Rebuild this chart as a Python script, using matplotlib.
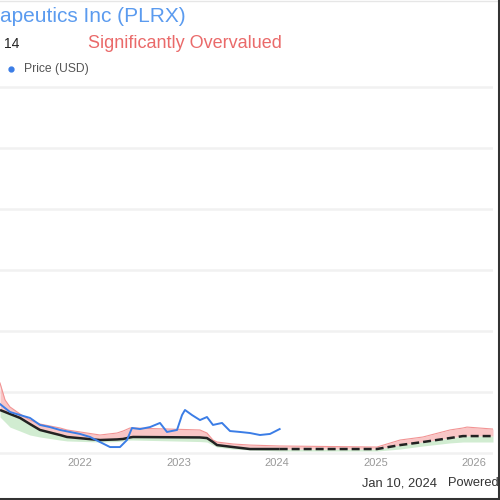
import matplotlib
matplotlib.use("Agg")
import matplotlib.pyplot as plt
from matplotlib.lines import Line2D
import numpy as np

plt.rcParams['font.family'] = ['Liberation Sans', 'DejaVu Sans']

# ---- data (decimal years, USD) ----
price_dates = [2021.188, 2021.289, 2021.391, 2021.492, 2021.594, 2021.695, 2021.797,
               2021.898, 2022.000, 2022.102, 2022.203, 2022.305, 2022.406, 2022.477,
               2022.528, 2022.609, 2022.711, 2022.812, 2022.883, 2022.985, 2023.036,
               2023.066, 2023.137, 2023.218, 2023.289, 2023.350, 2023.442, 2023.523,
               2023.624, 2023.726, 2023.827, 2023.929, 2024.027]
price_values = [32.1, 26.9, 24.9, 23.0, 18.4, 17.0, 15.1, 13.8, 12.5, 10.5, 7.2, 3.9,
                3.9, 8.5, 16.4, 15.7, 17.0, 19.7, 13.8, 15.1, 24.9, 28.2, 24.9, 21.6,
                23.6, 18.4, 19.7, 14.4, 13.8, 13.1, 11.8, 12.5, 15.7]

band_dates = [2021.188, 2021.239, 2021.289, 2021.391, 2021.492, 2021.594, 2021.797,
              2021.868, 2022.203, 2022.376, 2022.437, 2022.508, 2022.538, 2023.218,
              2023.289, 2023.350, 2023.391, 2023.553, 2023.726, 2024.027, 2025.015,
              2025.249, 2025.482, 2025.756, 2025.888, 2025.929, 2026.193]
gf_value = [28.2, 26.9, 25.6, 23.0, 19.0, 15.1, 11.8, 10.5, 8.5, 8.9, 9.2, 10.2, 10.5,
            10.2, 9.8, 7.2, 5.2, 3.9, 2.6, 2.6, 2.6, 5.2, 7.2, 9.8, 11.1, 11.1, 11.1]
upper_band = [45.9, 34.8, 30.2, 25.6, 21.6, 19.0, 16.4, 15.1, 11.8, 13.1, 14.4, 16.4,
              16.4, 15.1, 13.1, 8.5, 7.2, 5.9, 5.2, 4.6, 3.9, 8.5, 10.5, 15.1, 16.4,
              17.0, 15.7]
lower_band = [23.6, 20.3, 17.0, 14.4, 11.8, 10.5, 8.5, 7.9, 7.2, 7.5, 7.9, 8.5, 8.5,
              7.5, 7.2, 5.2, 3.9, 2.6, 2.0, 1.3, 1.3, 2.6, 4.6, 6.6, 7.2, 7.2, 7.2]
today = 2024.027

year_ticks = [2022, 2023, 2024, 2025, 2026]
year_labels = ['2022', '2023', '2024', '2025', '2026']
grid_values = [0, 40, 80, 120, 160, 200, 240]

# ---- figure ----
fig = plt.figure(figsize=(5, 5), dpi=100)
fig.patch.set_facecolor('white')
ax = fig.add_axes([0.0, 0.09, 0.986, 0.74])

bd = np.array(band_dates)
gf = np.array(gf_value)
up = np.array(upper_band)
lo = np.array(lower_band)

ax.fill_between(bd, gf, up, color='#f7b3b3', alpha=0.75, lw=0, zorder=2)
ax.plot(bd, up, color='#f29494', lw=0.8, zorder=2)
ax.fill_between(bd, lo, gf, color='#c6e8c6', alpha=0.8, lw=0, zorder=2)

hist = bd <= today + 1e-9
fut = bd >= today - 1e-9
ax.plot(bd[hist], gf[hist], color='#222222', lw=1.8, zorder=3, solid_capstyle='butt')
ax.plot(bd[fut], gf[fut], color='#222222', lw=1.8, zorder=3,
        linestyle=(0, (3.2, 1.6)))

ax.plot(price_dates, price_values, color='#3b7de6', lw=1.4, zorder=4)

ax.set_xlim(2021.188, 2026.193)
ax.set_ylim(-1.31, 241.3)
ax.set_yticks(grid_values)
ax.set_yticklabels([])
ax.grid(axis='y', color='#f1f1f1', lw=1.8)
ax.set_axisbelow(True)
ax.set_xticks(year_ticks)
ax.set_xticklabels(year_labels)
ax.tick_params(axis='x', length=0, pad=2, labelsize=8, labelcolor='#999999')
ax.tick_params(axis='y', length=0)
for s in ax.spines.values():
    s.set_visible(False)

# ---- texts ----
fig.text(0 / 500, 1 - 17 / 500, 'apeutics Inc (PLRX)', ha='left', va='center',
         fontsize=15, color='#5b9bef')
fig.text(19 / 500, 1 - 44 / 500, '14', ha='right', va='center', fontsize=10,
         color='#222222')
fig.text(88 / 500, 1 - 43 / 500, 'Significantly Overvalued', ha='left', va='center',
         fontsize=13, color='#ea6a6a')
fig.add_artist(Line2D([11 / 500], [1 - 69 / 500], marker='o', markersize=3.5,
                      color='#3b7de6', transform=fig.transFigure))
fig.text(24 / 500, 1 - 69 / 500, 'Price (USD)', ha='left', va='center', fontsize=8.7,
         color='#555555')
fig.text(362 / 500, 1 - 483 / 500, 'Jan 10, 2024', ha='left', va='center', fontsize=9.3,
         color='#333333')
fig.text(448 / 500, 1 - 483 / 500, 'Powered', ha='left', va='center',
         fontsize=9.3, color='#333333')

# image borders
fig.add_artist(Line2D([0, 1], [1 - 0.5 / 500, 1 - 0.5 / 500], color='#e6e6e6', lw=1,
                      transform=fig.transFigure))
fig.add_artist(Line2D([498.5 / 500, 498.5 / 500], [0, 1], color='#333333', lw=2.2,
                      transform=fig.transFigure))
fig.add_artist(Line2D([0, 1], [1.5 / 500, 1.5 / 500], color='#333333', lw=2.2,
                      transform=fig.transFigure))

fig.savefig('out.png', dpi=100, facecolor='white')
